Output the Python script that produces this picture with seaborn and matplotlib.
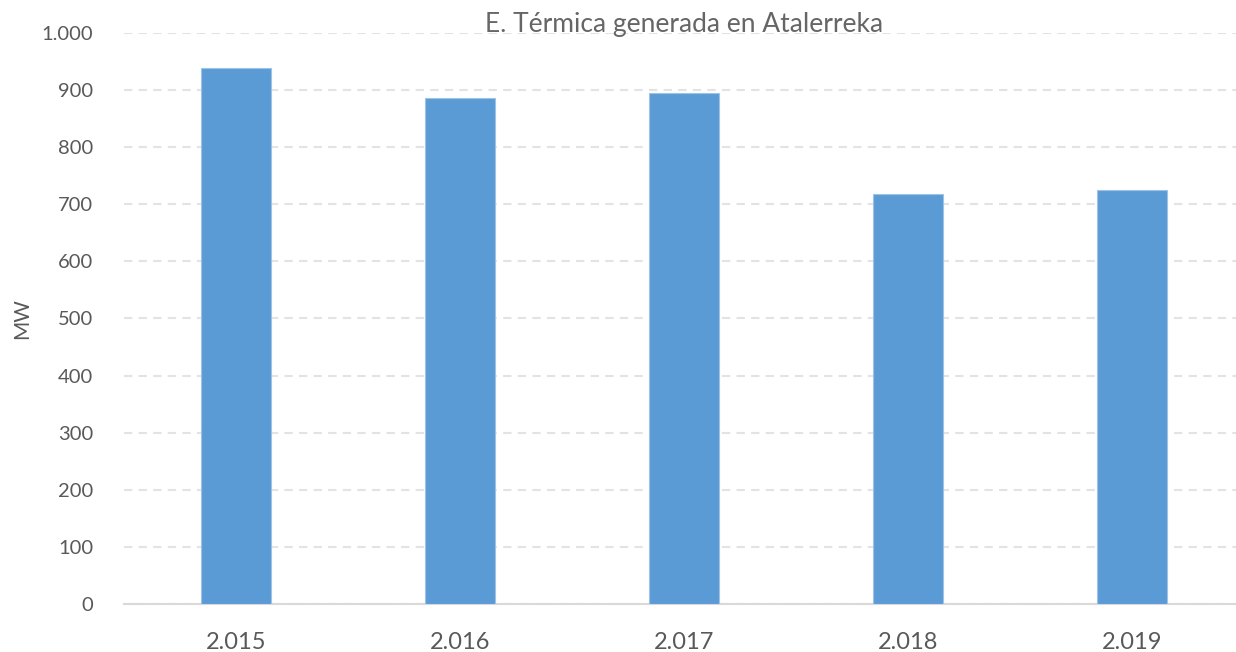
import matplotlib
matplotlib.use("Agg")
import matplotlib.pyplot as plt
import seaborn as sns
import pandas as pd

sns.set_style("white")
plt.rcParams['font.family'] = ['Lato', 'DejaVu Sans']

# Data
years = ['2.015', '2.016', '2.017', '2.018', '2.019']
energia_mw = [938, 887, 895, 718, 725]

df = pd.DataFrame({'year': years, 'mw': energia_mw})

text_col = '#595959'
bar_col = '#5B9BD5'

fig = plt.figure(figsize=(12.36, 6.52), dpi=100)
# plot area runs a little past the right edge, like the original
ax = fig.add_axes([124 / 1236, 48 / 652, (1244 - 124) / 1236, (604 - 33) / 652])

sns.barplot(x='year', y='mw', data=df, color=bar_col, width=0.315,
            saturation=1, edgecolor='#9DC3E6', linewidth=0.8, ax=ax, zorder=3)

ax.set_ylim(0, 1000)
ax.set_xlim(-0.5, 4.5)
ax.set_yticks(range(0, 1001, 100))
ax.set_yticklabels(['0', '100', '200', '300', '400', '500', '600', '700', '800', '900', '1.000'])
ax.yaxis.grid(True, color='#E3E3E3', linestyle=(0, (4, 3)), linewidth=1.5, zorder=0)
ax.set_axisbelow(True)

for side in ['top', 'right', 'left']:
    ax.spines[side].set_visible(False)
ax.spines['bottom'].set_color('#D9D9D9')
ax.spines['bottom'].set_linewidth(1.5)

ax.tick_params(axis='y', length=0, pad=22, labelsize=14.5, labelcolor=text_col)
ax.tick_params(axis='x', length=0, pad=20, labelsize=17, labelcolor=text_col)

ax.set_xlabel('')
ax.set_ylabel('MW', fontsize=15, color=text_col)
ax.yaxis.set_label_coords(-0.082, 0.5)

fig.text(684 / 1236, 0.962, 'E. Térmica generada en Atalerreka', ha='center', va='center',
         fontsize=19, color='#666666')

plt.savefig('out.png', dpi=100)
